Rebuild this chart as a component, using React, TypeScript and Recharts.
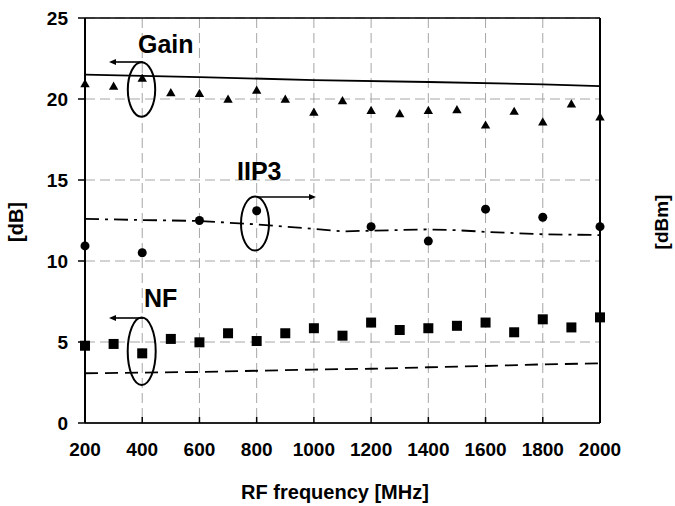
import React from "react";
import {
  ComposedChart,
  Line,
  XAxis,
  YAxis,
  CartesianGrid,
  ReferenceLine,
} from "recharts";

const freqMeas: number[] = [
  200, 300, 400, 500, 600, 700, 800, 900, 1000, 1100, 1200, 1300, 1400, 1500,
  1600, 1700, 1800, 1900, 2000,
];
const gainMeas: number[] = [
  20.95, 20.8, 21.3, 20.4, 20.35, 20.0, 20.55, 20.0, 19.2, 19.9, 19.3, 19.1,
  19.3, 19.35, 18.4, 19.25, 18.6, 19.7, 18.9,
];
const nfMeas: number[] = [
  4.77, 4.88, 4.3, 5.19, 4.98, 5.54, 5.06, 5.54, 5.85, 5.39, 6.2, 5.74, 5.85,
  6.0, 6.2, 5.6, 6.4, 5.9, 6.52,
];

const iip3Freq: number[] = [200, 400, 600, 800, 1200, 1400, 1600, 1800, 2000];
const iip3Meas: number[] = [10.93, 10.51, 12.5, 13.1, 12.12, 11.23, 13.2, 12.7, 12.12];

const gainSimFreq: number[] = [200, 600, 1000, 1400, 1800, 2000];
const gainSim: number[] = [21.5, 21.35, 21.17, 21.05, 20.9, 20.8];

const iip3SimFreq: number[] = [200, 400, 600, 800, 1000, 1100, 1200, 1400, 1500, 1600, 1800, 2000];
const iip3Sim: number[] = [12.6, 12.53, 12.47, 12.26, 11.98, 11.83, 11.87, 11.95, 11.9, 11.8, 11.65, 11.6];

const nfSimFreq: number[] = [200, 600, 1000, 1200, 1400, 1600, 1800, 2000];
const nfSim: number[] = [3.07, 3.15, 3.3, 3.35, 3.44, 3.52, 3.62, 3.68];

const xTicks: number[] = [200, 400, 600, 800, 1000, 1200, 1400, 1600, 1800, 2000];
const yTicks: number[] = [0, 5, 10, 15, 20, 25];

const pairs = (xs: number[], ys: number[]) => xs.map((f, i) => ({ f, v: ys[i] }));

const FONT = "'Liberation Sans', Arial, sans-serif";
const tickStyle = { fontSize: 19, fontWeight: 700, fill: "#000", fontFamily: FONT };

const Triangle = (p: any) => (
  <polygon
    key={`t${p.index}`}
    points={`${p.cx},${p.cy - 4.5} ${p.cx - 4.7},${p.cy + 3.7} ${p.cx + 4.7},${p.cy + 3.7}`}
    fill="#000"
  />
);
const Square = (p: any) => (
  <rect key={`s${p.index}`} x={p.cx - 5} y={p.cy - 5} width={10} height={10} fill="#000" />
);
const Dot = (p: any) => <circle key={`c${p.index}`} cx={p.cx} cy={p.cy} r={4.5} fill="#000" />;

const XTick = (p: any) => (
  <g>
    <line x1={p.x} x2={p.x} y1={p.y - 20} y2={p.y - 26} stroke="#000" strokeWidth={1.5} />
    <text x={p.x} y={p.y} dy="0.71em" textAnchor="middle" {...tickStyle}>
      {p.payload.value}
    </text>
  </g>
);

const Arrow = ({ x1, x2, y }: { x1: number; x2: number; y: number }) => {
  const dir = x2 > x1 ? 1 : -1;
  return (
    <g>
      <line x1={x1} x2={x2 - dir * 5} y1={y} y2={y} stroke="#000" strokeWidth={1.6} />
      <polygon
        points={`${x2},${y} ${x2 - dir * 7},${y - 3} ${x2 - dir * 7},${y + 3}`}
        fill="#000"
      />
    </g>
  );
};

const labelStyle = { fontSize: 25, fontWeight: 700, fill: "#000", fontFamily: FONT };

const App: React.FC = () => (
  <div style={{ position: "absolute", left: 0, top: 0, width: 675, height: 506, background: "#fff" }}>
    <ComposedChart width={675} height={506} margin={{ top: 18, right: 0, left: 0, bottom: 0 }}>
      <CartesianGrid yAxisId="left" stroke="#a6a6a6" strokeDasharray="10 5" />
      <XAxis
        dataKey="f"
        type="number"
        domain={[200, 2000]}
        ticks={xTicks}
        interval={0}
        height={83}
        tickSize={0}
        tickMargin={20}
        tickLine={false}
        tick={<XTick />}
        axisLine={{ stroke: "#222", strokeWidth: 2 }}
      />
      <YAxis
        yAxisId="left"
        domain={[0, 25]}
        ticks={yTicks}
        width={85}
        tickSize={7}
        tickMargin={10}
        tick={tickStyle}
        tickLine={{ stroke: "#000", strokeWidth: 1.5 }}
        axisLine={{ stroke: "#000", strokeWidth: 2 }}
      />
      <YAxis
        yAxisId="right"
        orientation="right"
        domain={[0, 25]}
        ticks={yTicks}
        width={75}
        tickSize={8}
        tickMargin={10}
        tick={tickStyle}
        tickLine={{ stroke: "#000", strokeWidth: 1.5 }}
        axisLine={{ stroke: "#000", strokeWidth: 2 }}
      />
      <ReferenceLine yAxisId="left" y={25} stroke="#000" strokeWidth={1.5} />

      <Line yAxisId="left" data={pairs(gainSimFreq, gainSim)} dataKey="v" stroke="#000" strokeWidth={1.8} dot={false} activeDot={false} isAnimationActive={false} />
      <Line yAxisId="left" data={pairs(iip3SimFreq, iip3Sim)} dataKey="v" stroke="#000" strokeWidth={1.8} strokeDasharray="14 6 3 6" dot={false} activeDot={false} isAnimationActive={false} />
      <Line yAxisId="left" data={pairs(nfSimFreq, nfSim)} dataKey="v" stroke="#000" strokeWidth={1.8} strokeDasharray="13 7" dot={false} activeDot={false} isAnimationActive={false} />

      <Line yAxisId="left" data={pairs(freqMeas, gainMeas)} dataKey="v" stroke="none" dot={Triangle} activeDot={false} isAnimationActive={false} />
      <Line yAxisId="left" data={pairs(iip3Freq, iip3Meas)} dataKey="v" stroke="none" dot={Dot} activeDot={false} isAnimationActive={false} />
      <Line yAxisId="left" data={pairs(freqMeas, nfMeas)} dataKey="v" stroke="none" dot={Square} activeDot={false} isAnimationActive={false} />
    </ComposedChart>

    <svg
      width={675}
      height={506}
      style={{ position: "absolute", left: 0, top: 0, pointerEvents: "none" }}
    >
      <text x={138} y={53} {...labelStyle}>Gain</text>
      <Arrow x1={143} x2={109} y={62} />
      <ellipse cx={141.5} cy={89.5} rx={13.7} ry={27.2} fill="none" stroke="#000" strokeWidth={2} />

      <text x={237} y={180} {...labelStyle}>IIP3</text>
      <Arrow x1={257} x2={316} y={197} />
      <ellipse cx={255} cy={223.5} rx={14} ry={27} fill="none" stroke="#000" strokeWidth={2} />

      <text x={144} y={307} {...labelStyle}>NF</text>
      <Arrow x1={143} x2={109} y={318} />
      <ellipse cx={141.7} cy={351.3} rx={14} ry={33.7} fill="none" stroke="#000" strokeWidth={2} />

      <text x={335} y={499} textAnchor="middle" fontSize={20} fontWeight={700} fill="#000" fontFamily={FONT}>
        RF frequency [MHz]
      </text>
      <text transform="translate(23,222) rotate(-90)" textAnchor="middle" fontSize={20} fontWeight={700} fill="#000" fontFamily={FONT}>
        [dB]
      </text>
      <text transform="translate(668,222) rotate(-90)" textAnchor="middle" fontSize={19} fontWeight={700} fill="#000" fontFamily={FONT}>
        [dBm]
      </text>
    </svg>
  </div>
);

export default App;
